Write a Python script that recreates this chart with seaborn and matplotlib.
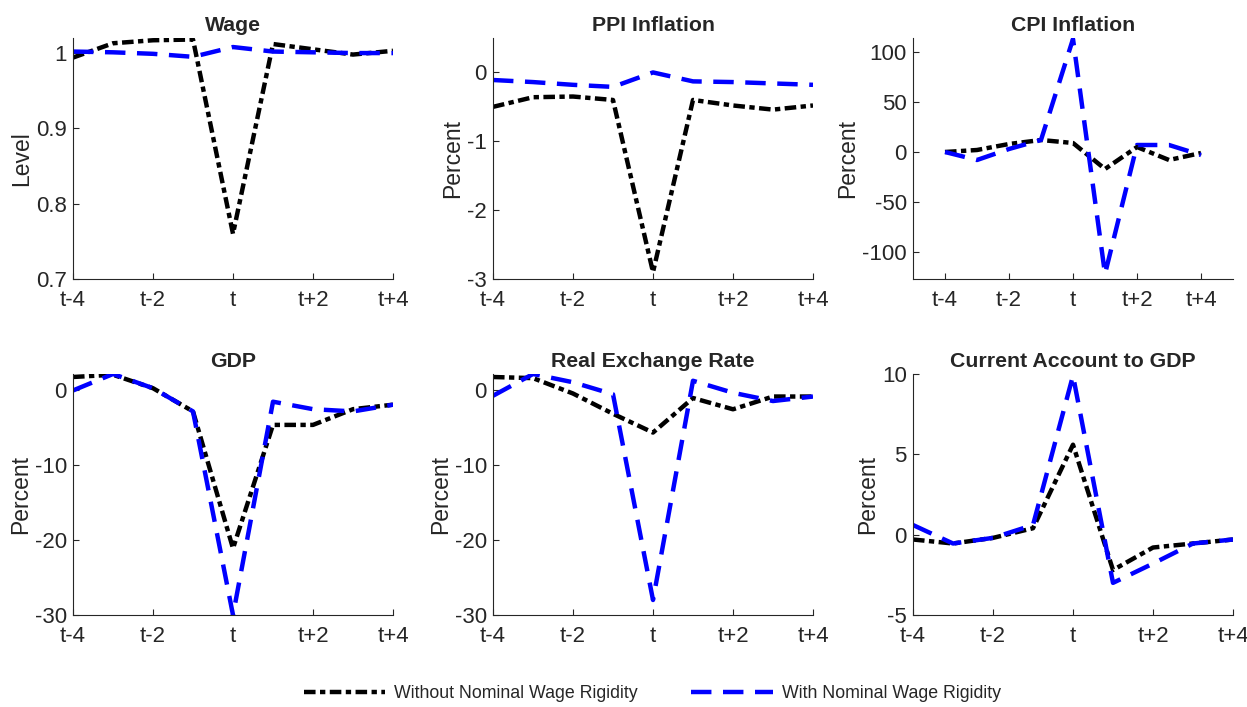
import numpy as np
import pandas as pd
import matplotlib
matplotlib.use("Agg")
import matplotlib.pyplot as plt
import seaborn as sns

periods = [-4, -3, -2, -1, 0, 1, 2, 3, 4]
xtick_pos = [-4, -2, 0, 2, 4]
xtick_labels = ["t-4", "t-2", "t", "t+2", "t+4"]

series_names = ["Without Nominal Wage Rigidity", "With Nominal Wage Rigidity"]

wage_without = [0.994, 1.013, 1.017, 1.018, 0.760, 1.012, 1.005, 0.998, 1.003]
wage_with = [1.002, 1.001, 0.999, 0.995, 1.008, 1.002, 1.001, 1.000, 1.000]

ppi_without = [-0.50, -0.36, -0.35, -0.40, -2.90, -0.40, -0.48, -0.54, -0.48]
ppi_with = [-0.11, -0.14, -0.18, -0.21, 0.00, -0.13, -0.14, -0.16, -0.18]

cpi_without = [0, 2, 8, 12, 9, -17, 5, -8, -1]
cpi_with = [0, -8, 3, 12, 113, -122, 7, 7, -3]

gdp_without = [1.8, 2.1, 0.3, -2.8, -21.1, -4.6, -4.6, -2.5, -1.9]
gdp_with = [0.0, 2.2, 0.3, -2.8, -30.0, -1.5, -2.5, -2.8, -1.9]

rer_without = [1.7, 1.55, -0.5, -3.2, -5.7, -1.1, -2.6, -0.9, -0.9]
rer_with = [-0.8, 2.1, 1.0, -0.6, -28.0, 1.2, -0.4, -1.5, -0.9]

ca_without = [-0.3, -0.55, -0.2, 0.4, 5.6, -2.2, -0.8, -0.55, -0.3]
ca_with = [0.6, -0.55, -0.2, 0.6, 9.9, -3.0, -1.8, -0.55, -0.3]

panels = [
    ("Wage", "Level", wage_without, wage_with, (0.7, 1.02), [0.7, 0.8, 0.9, 1.0], ["0.7", "0.8", "0.9", "1"], (-4, 4)),
    ("PPI Inflation", "Percent", ppi_without, ppi_with, (-3, 0.5), [-3, -2, -1, 0], ["-3", "-2", "-1", "0"], (-4, 4)),
    ("CPI Inflation", "Percent", cpi_without, cpi_with, (-127, 114), [-100, -50, 0, 50, 100], ["-100", "-50", "0", "50", "100"], (-5, 5)),
    ("GDP", "Percent", gdp_without, gdp_with, (-30, 2.2), [-30, -20, -10, 0], ["-30", "-20", "-10", "0"], (-4, 4)),
    ("Real Exchange Rate", "Percent", rer_without, rer_with, (-30, 2.1), [-30, -20, -10, 0], ["-30", "-20", "-10", "0"], (-4, 4)),
    ("Current Account to GDP", "Percent", ca_without, ca_with, (-5, 10), [-5, 0, 5, 10], ["-5", "0", "5", "10"], (-4, 4)),
]

sns.set_style("ticks")
plt.rcParams["font.family"] = ["Liberation Sans", "DejaVu Sans"]

fig = plt.figure(figsize=(12.47, 7.07), dpi=100)

lefts = [73 / 1247, 493 / 1247, 913 / 1247]
bottoms = [1 - 279 / 707, 1 - 615 / 707]
w = 320 / 1247
h = 241 / 707

palette = {series_names[0]: "black", series_names[1]: "#0000ff"}
dashes = {series_names[0]: (2.6, 1.0, 1.2, 1.0), series_names[1]: (4.6, 2.6)}

handles = None
for i, (title, ylabel, s_wo, s_w, ylim, yticks, ylabels, xlim) in enumerate(panels):
    r, c = divmod(i, 3)
    ax = fig.add_axes([lefts[c], bottoms[r], w, h])
    df = pd.DataFrame({
        "period": periods * 2,
        "value": list(s_wo) + list(s_w),
        "scenario": [series_names[0]] * len(periods) + [series_names[1]] * len(periods),
    })
    sns.lineplot(data=df, x="period", y="value", hue="scenario", style="scenario",
                 palette=palette, dashes=dashes, linewidth=3.2, ax=ax,
                 legend=(i == 0), hue_order=series_names, style_order=series_names)
    if i == 0:
        handles, labels = ax.get_legend_handles_labels()
        ax.get_legend().remove()
    ax.set_xlim(*xlim)
    ax.set_ylim(*ylim)
    ax.set_xticks(xtick_pos)
    ax.set_xticklabels(xtick_labels)
    ax.set_yticks(yticks)
    ax.set_yticklabels(ylabels)
    ax.set_xlabel("")
    ax.set_ylabel(ylabel, fontsize=16.5, color="#262626", labelpad=2)
    ax.set_title(title, fontsize=15.3, fontweight="bold", pad=5)
    sns.despine(ax=ax)
    ax.tick_params(direction="in", length=4, labelsize=16, colors="#262626")
    ax.tick_params(axis="x", pad=8)
    ax.tick_params(axis="y", pad=4.5)
    for sp in ("left", "bottom"):
        ax.spines[sp].set_color("#262626")
        ax.spines[sp].set_linewidth(0.8)

fig.legend(handles, series_names, loc="center", bbox_to_anchor=(0.523, 1 - 694 / 707),
           ncol=2, frameon=False, fontsize=12.8, handlelength=4.6,
           columnspacing=3.0, handletextpad=0.5)

fig.savefig("out.png", dpi=100)
